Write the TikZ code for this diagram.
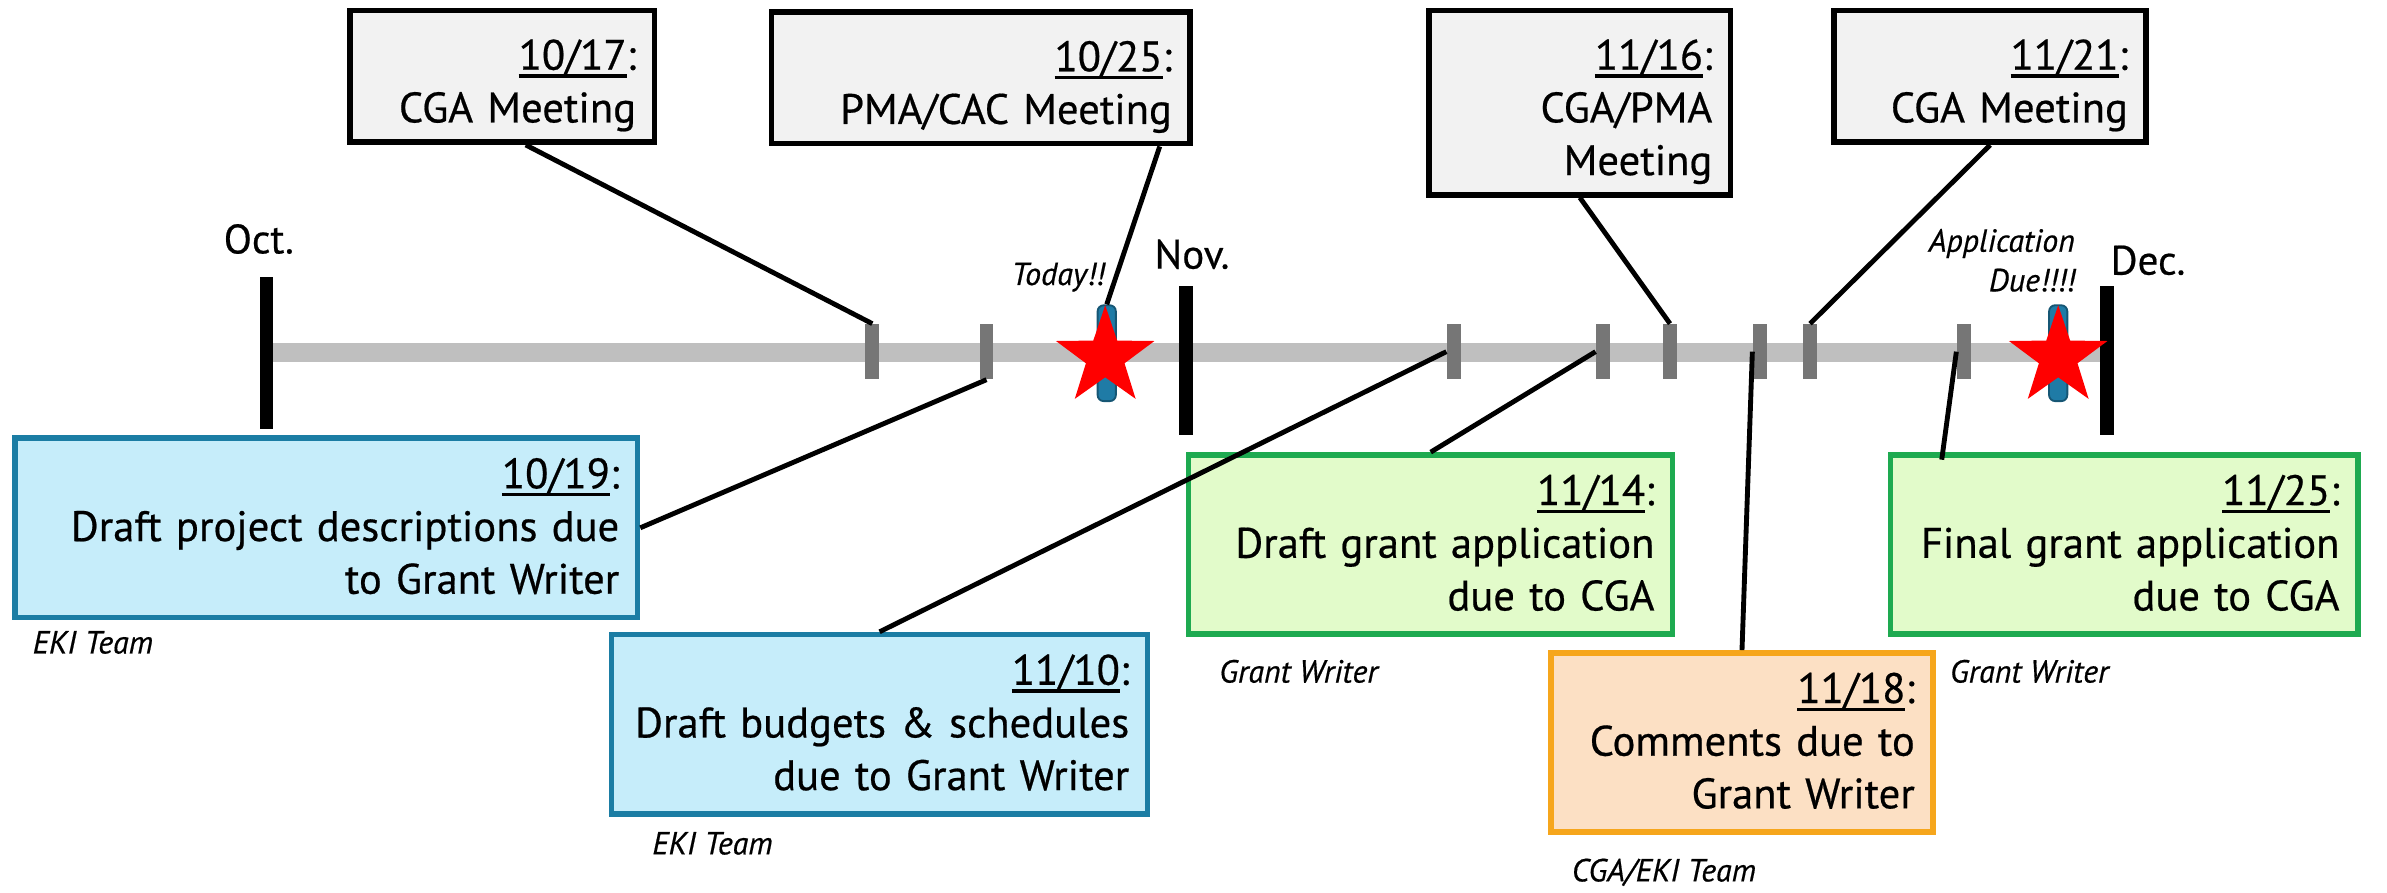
\documentclass[tikz,border=0pt]{standalone}
\usepackage{fontspec}
\setmainfont{PT Sans}[FakeBold=0.5]
\usetikzlibrary{shapes.geometric}

\definecolor{meetfill}{HTML}{F2F2F2}
\definecolor{ekiline}{HTML}{1B7DA4}
\definecolor{ekifill}{HTML}{C6EDFA}
\definecolor{gwline}{HTML}{1EAA50}
\definecolor{gwfill}{HTML}{E2FBCA}
\definecolor{cmtline}{HTML}{F6A61C}
\definecolor{cmtfill}{HTML}{FCE0C4}
\definecolor{barline}{HTML}{BFBFBF}
\definecolor{tickgray}{HTML}{767676}
\definecolor{todayblue}{HTML}{1F7BA6}

\newcommand{\boxfont}{\fontsize{14}{17.3}\selectfont}
\newcommand{\monthfont}{\fontsize{13.5}{16}\selectfont}
\newcommand{\rolefont}{\fontsize{10.5}{13}\selectfont\itshape}
% date with a heavier underline
\newcommand{\dateul}[1]{\setbox0\hbox{#1}\rlap{\rule[-2.6pt]{\wd0}{1.1pt}}\box0}
% first line of a box: date, with room above it
\newcommand{\meetdate}[1]{\rule{0pt}{19.5pt}\dateul{#1}:}
\newcommand{\duedate}[1]{\rule{0pt}{16.5pt}\dateul{#1}:}
\newcommand{\boxend}[1]{\rule[-#1]{0pt}{#1}}

\begin{document}
\begin{tikzpicture}[x=0.5pt, y=-0.5pt,
    meetbox/.style={draw=black, fill=meetfill, line width=1.8pt, anchor=north west, align=right,
      inner xsep=6pt, inner ysep=0pt, text width=#1, font=\boxfont},
    ekibox/.style={meetbox=#1, draw=ekiline, fill=ekifill},
    gwbox/.style={meetbox=#1, draw=gwline, fill=gwfill},
    cmtbox/.style={meetbox=#1, draw=cmtline, fill=cmtfill},
    month/.style={font=\monthfont},
    monthtick/.style={line width=4.5pt},
    daytick/.style={fill=tickgray, minimum width=4.5pt, minimum height=18pt, inner sep=0pt},
    todaybar/.style={fill=todayblue, draw=todayblue!70!black, line width=0.6pt, minimum width=6pt,
      minimum height=31.5pt, inner sep=0pt, rounded corners=2pt},
    duestar/.style={star, star points=5, star point ratio=2.55, fill=red, minimum size=34pt,
      inner sep=0pt},
    role/.style={font=\rolefont},
    link/.style={line width=1.6pt}]
  \useasboundingbox (0,0) rectangle (1568,586);

  % time line and months
  \draw[barline, line width=6.25pt] (175,231.5) -- (1383,231.5);
  \draw[monthtick] (175,182) -- (175,282);
  \draw[monthtick] (779,188) -- (779,286);
  \draw[monthtick] (1384,188) -- (1384,286);
  \node[month] (oct) at (170,157) {Oct.};
  \node[month] (nov) at (783,167) {Nov.};
  \node[month] (dec) at (1411,171) {Dec.};

  % days
  \node[daytick] (t1) at (573,231) {};
  \node[daytick] (t2) at (648,231) {};
  \node[daytick] (t3) at (955,231) {};
  \node[daytick] (t4) at (1053,231) {};
  \node[daytick] (t5) at (1097,231) {};
  \node[daytick] (t6) at (1156,231) {};
  \node[daytick] (t7) at (1189,231) {};
  \node[daytick] (t8) at (1290,231) {};
  \node[todaybar] (todaybar) at (727,232) {};
  \node[todaybar] (duebar) at (1352,232) {};

  % meetings
  \node[meetbox=88pt] (m1017) at (228,5) {\meetdate{10/17}\\ CGA Meeting\boxend{6.5pt}};
  \node[meetbox=125.5pt] (m1025) at (505,6) {\meetdate{10/25}\\ PMA/CAC Meeting\boxend{6.5pt}};
  \node[meetbox=87pt] (m1116) at (937,5) {\meetdate{11/16}\\ CGA/PMA\\ Meeting\boxend{6.5pt}};
  \node[meetbox=90.5pt] (m1121) at (1203,5) {\meetdate{11/21}\\ CGA Meeting\boxend{6.5pt}};

  % deliverables
  \node[ekibox=192.5pt] (d1019) at (8,286) {\duedate{10/19}\\ Draft project descriptions due\\ to Grant Writer\boxend{7.8pt}};
  \node[ekibox=164pt] (d1110) at (400,415) {\duedate{11/10}\\ Draft budgets \& schedules\\ due to Grant Writer\boxend{7.8pt}};
  \node[gwbox=147pt] (d1114) at (779,297) {\duedate{11/14}\\ Draft grant application\\ due to CGA\boxend{7.8pt}};
  \node[cmtbox=113.5pt] (d1118) at (1017,427) {\duedate{11/18}\\ Comments due to\\ Grant Writer\boxend{7.8pt}};
  \node[gwbox=141.5pt] (d1125) at (1240,297) {\duedate{11/25}\\ Final grant application\\ due to CGA\boxend{7.8pt}};

  \node[role] (r1019) at (61,422) {EKI Team};
  \node[role] (r1110) at (468,554) {EKI Team};
  \node[role] (r1114) at (853,441) {Grant Writer};
  \node[role] (r1118) at (1093,573) {CGA/EKI Team};
  \node[role] (r1125) at (1333,441) {Grant Writer};

  % connectors
  \draw[link] (m1017.-71) -- (t1.north);
  \draw[link] (m1025.-21) -- (todaybar.north);
  \draw[link] (m1116.south) -- (t5.north);
  \draw[link] (m1121.south) -- (t7.north);
  \draw[link] (t2.south) -- (d1019.east);
  \draw[link] (t3.west) -- (d1110.north);
  \draw[link] (t4.west) -- (d1114.north);
  \draw[link] (t6.west) -- (d1118.north);
  \draw[link, shorten >=-2.5pt] (t8.west) -- (d1125.153);

  % stars
  \node[duestar] (todaystar) at (726,234.5) {};
  \node[duestar] (duestar) at (1352,234.5) {};
  \node[role] (today) at (695,182) {Today!!};
  \node[role, align=right, anchor=east] (appdue) at (1370,171) {Application\\ Due!!!!};
\end{tikzpicture}
\end{document}
